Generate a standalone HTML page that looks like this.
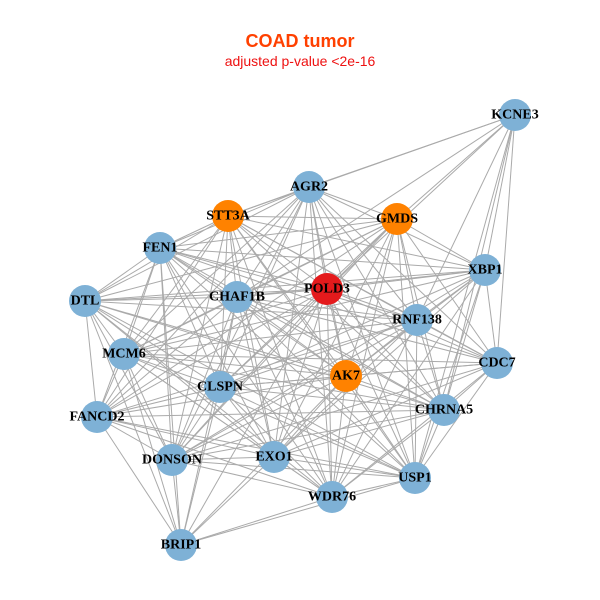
<!DOCTYPE html>
<html><head><meta charset="utf-8"><style>
html,body{margin:0;padding:0;background:#fff;}
svg{display:block;}
.l{font-family:"Liberation Serif",serif;font-weight:bold;font-size:14px;fill:#000;text-anchor:middle;dominant-baseline:central;}
</style></head><body>
<svg id="s" width="600" height="600" viewBox="0 0 600 600">
<text x="300" y="47" font-family="Liberation Sans,sans-serif" font-weight="bold" font-size="18" fill="#ff4000" text-anchor="middle">COAD tumor</text>
<text x="300" y="66" font-family="Liberation Sans,sans-serif" font-size="14" fill="#ee1111" text-anchor="middle">adjusted p-value &lt;2e-16</text>
<g id="e" stroke="#aaaaaa" stroke-width="1"></g>
<g id="n"></g>
<text class="l" x="515" y="115">KCNE3</text>
<text class="l" x="309" y="187">AGR2</text>
<text class="l" x="228" y="216">STT3A</text>
<text class="l" x="397" y="219">GMDS</text>
<text class="l" x="160" y="248">FEN1</text>
<text class="l" x="485" y="270">XBP1</text>
<text class="l" x="85" y="301">DTL</text>
<text class="l" x="237" y="297">CHAF1B</text>
<text class="l" x="327" y="289">POLD3</text>
<text class="l" x="417" y="320">RNF138</text>
<text class="l" x="124" y="354">MCM6</text>
<text class="l" x="497" y="363">CDC7</text>
<text class="l" x="346" y="376">AK7</text>
<text class="l" x="220" y="387">CLSPN</text>
<text class="l" x="444" y="410">CHRNA5</text>
<text class="l" x="97" y="417">FANCD2</text>
<text class="l" x="172" y="460">DONSON</text>
<text class="l" x="274" y="457">EXO1</text>
<text class="l" x="415" y="478">USP1</text>
<text class="l" x="332" y="497">WDR76</text>
<text class="l" x="181" y="545">BRIP1</text>
</svg>
<script>
var N=[["KCNE3",515,115,0],["AGR2",309,187,0],["STT3A",228,216,1],["GMDS",397,219,1],["FEN1",160,248,0],["XBP1",485,270,0],["DTL",85,301,0],["CHAF1B",237,297,0],["POLD3",327,289,2],["RNF138",417,320,0],["MCM6",124,354,0],["CDC7",497,363,0],["AK7",346,376,1],["CLSPN",220,387,0],["CHRNA5",444,410,0],["FANCD2",97,417,0],["DONSON",172,460,0],["EXO1",274,457,0],["USP1",415,478,0],["WDR76",332,497,0],["BRIP1",181,545,0]];
var skip={"KCNE3-DTL":1,"KCNE3-FANCD2":1,"KCNE3-MCM6":1,"KCNE3-DONSON":1,"KCNE3-BRIP1":1,"KCNE3-FEN1":1,"KCNE3-CLSPN":1,"KCNE3-EXO1":1,"BRIP1-XBP1":1,"BRIP1-CDC7":1,"BRIP1-GMDS":1,"BRIP1-AGR2":1,"XBP1-FANCD2":1,"CDC7-FANCD2":1,"KCNE3-WDR76":1,"BRIP1-RNF138":1,"BRIP1-CHRNA5":1,"KCNE3-AK7":1,"BRIP1-STT3A":1,"DTL-CDC7":1};
var ns="http://www.w3.org/2000/svg",e=document.getElementById("e"),g=document.getElementById("n");
for(var i=0;i<N.length;i++)for(var j=i+1;j<N.length;j++){
 if(skip[N[i][0]+"-"+N[j][0]]||skip[N[j][0]+"-"+N[i][0]])continue;
 var l=document.createElementNS(ns,"line");
 l.setAttribute("x1",N[i][1]);l.setAttribute("y1",N[i][2]);l.setAttribute("x2",N[j][1]);l.setAttribute("y2",N[j][2]);e.appendChild(l);}
var C=["#7eb1d6","#ff8200","#e41a1c"];
N.forEach(function(n){var c=document.createElementNS(ns,"circle");c.setAttribute("cx",n[1]);c.setAttribute("cy",n[2]);c.setAttribute("r",16);c.setAttribute("fill",C[n[3]]);g.appendChild(c);});
</script>
</body></html>
